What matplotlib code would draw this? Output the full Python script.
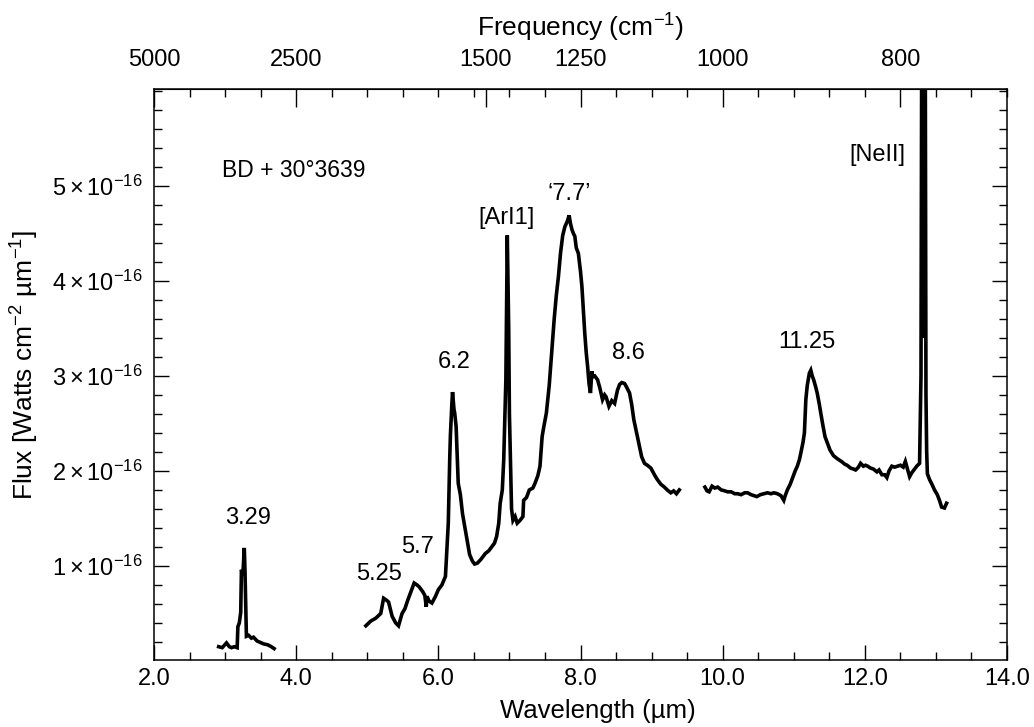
import numpy as np
import matplotlib
matplotlib.use("Agg")
import matplotlib.pyplot as plt
from matplotlib.ticker import MultipleLocator, FixedLocator

plt.rcParams['font.family'] = ['Liberation Sans', 'DejaVu Sans']
plt.rcParams['mathtext.fontset'] = 'custom'
plt.rcParams['mathtext.rm'] = 'Liberation Sans'
plt.rcParams['mathtext.it'] = 'Liberation Sans:italic'
plt.rcParams['mathtext.bf'] = 'Liberation Sans:bold'

# spectrum of BD+30 3639, flux in units of 1e-16 W cm^-2 um^-1
wl1 = [2.91, 2.96, 3.02, 3.06, 3.09, 3.13, 3.17, 3.18, 3.20, 3.22, 3.23, 3.25,
       3.27, 3.28, 3.29, 3.30, 3.33, 3.37, 3.40, 3.45, 3.48, 3.54, 3.60, 3.65, 3.69]
fl1 = [0.15, 0.14, 0.19, 0.15, 0.14, 0.15, 0.14, 0.36, 0.40, 0.51, 0.96, 0.90,
       1.19, 0.95, 0.60, 0.26, 0.27, 0.24, 0.25, 0.21, 0.20, 0.18, 0.17, 0.15, 0.13]

wl2 = [4.98, 5.05, 5.12, 5.19, 5.23, 5.27, 5.30, 5.35, 5.40, 5.44, 5.49, 5.53,
       5.57, 5.62, 5.66, 5.70, 5.73, 5.78, 5.81, 5.83, 5.84, 5.87, 5.91, 5.96,
       6.00, 6.05, 6.10, 6.13, 6.14, 6.16, 6.17, 6.19, 6.20, 6.22, 6.23, 6.25,
       6.28, 6.31, 6.34, 6.37, 6.41, 6.44, 6.48, 6.51, 6.55, 6.60, 6.66, 6.71,
       6.75, 6.79, 6.82, 6.85, 6.87, 6.90, 6.92, 6.95, 6.97, 6.98, 6.99, 7.00,
       7.01, 7.03, 7.05, 7.08, 7.11, 7.15, 7.19, 7.20, 7.24, 7.28, 7.33, 7.36,
       7.40, 7.43, 7.46, 7.48, 7.52, 7.56, 7.60, 7.63, 7.66, 7.69, 7.72, 7.75,
       7.78, 7.81, 7.82, 7.84, 7.86, 7.88, 7.90, 7.92, 7.94, 7.97, 8.00, 8.02,
       8.04, 8.06, 8.08, 8.10, 8.12, 8.14, 8.16, 8.17, 8.20, 8.24, 8.27, 8.31,
       8.34, 8.36, 8.40, 8.44, 8.48, 8.52, 8.55, 8.58, 8.62, 8.65, 8.69, 8.72,
       8.75, 8.79, 8.83, 8.86, 8.90, 8.94, 8.99, 9.04, 9.08, 9.13, 9.18, 9.22,
       9.27, 9.31, 9.35, 9.39]
fl2 = [0.37, 0.42, 0.45, 0.50, 0.66, 0.64, 0.62, 0.47, 0.40, 0.37, 0.50, 0.55,
       0.64, 0.74, 0.82, 0.80, 0.78, 0.73, 0.69, 0.57, 0.68, 0.63, 0.61, 0.68,
       0.75, 0.80, 0.89, 1.31, 1.45, 2.12, 2.38, 2.70, 2.83, 2.65, 2.61, 2.47,
       1.87, 1.75, 1.55, 1.42, 1.24, 1.12, 1.05, 1.02, 1.03, 1.07, 1.13, 1.16,
       1.20, 1.24, 1.31, 1.45, 1.66, 1.80, 2.12, 2.96, 4.48, 4.00, 3.50, 2.60,
       2.26, 1.60, 1.48, 1.52, 1.45, 1.48, 1.52, 1.69, 1.72, 1.80, 1.82, 1.87,
       1.95, 2.05, 2.36, 2.45, 2.61, 2.90, 3.30, 3.60, 3.85, 4.05, 4.30, 4.48,
       4.57, 4.62, 4.64, 4.69, 4.60, 4.54, 4.50, 4.47, 4.35, 4.29, 4.10, 3.94,
       3.70, 3.45, 3.25, 3.10, 2.92, 2.82, 3.05, 2.99, 3.00, 2.96, 2.88, 2.75,
       2.80, 2.78, 2.68, 2.74, 2.71, 2.85, 2.91, 2.93, 2.92, 2.88, 2.82, 2.70,
       2.54, 2.40, 2.26, 2.15, 2.08, 2.06, 2.03, 1.96, 1.91, 1.86, 1.83, 1.80,
       1.77, 1.79, 1.76, 1.80]

wl3 = [9.75, 9.78, 9.81, 9.85, 9.89, 9.93, 9.98, 10.03, 10.07, 10.12, 10.17,
       10.21, 10.26, 10.31, 10.35, 10.40, 10.44, 10.48, 10.53, 10.58, 10.63,
       10.68, 10.72, 10.77, 10.82, 10.86, 10.88, 10.91, 10.95, 10.99, 11.02,
       11.05, 11.08, 11.10, 11.13, 11.15, 11.17, 11.19, 11.22, 11.24, 11.26,
       11.28, 11.31, 11.33, 11.36, 11.38, 11.41, 11.44, 11.48, 11.51, 11.56,
       11.61, 11.67, 11.72, 11.75, 11.80, 11.84, 11.87, 11.91, 11.94, 11.98,
       12.01, 12.04, 12.08, 12.12, 12.17, 12.20, 12.24, 12.28, 12.31, 12.34,
       12.38, 12.42, 12.46, 12.50, 12.54, 12.57, 12.60, 12.63, 12.66, 12.70,
       12.73, 12.77, 12.79, 12.80, 12.82, 12.83, 12.84, 12.85, 12.86, 12.87,
       12.88, 12.91, 12.95, 12.98, 13.02, 13.05, 13.08, 13.12, 13.15]
fl3 = [1.83, 1.79, 1.78, 1.84, 1.82, 1.83, 1.80, 1.79, 1.78, 1.78, 1.76,
       1.76, 1.75, 1.77, 1.77, 1.75, 1.74, 1.73, 1.75, 1.76, 1.77,
       1.76, 1.77, 1.76, 1.74, 1.69, 1.74, 1.80, 1.86, 1.94, 2.00,
       2.05, 2.12, 2.19, 2.30, 2.40, 2.75, 2.90, 3.03, 3.06, 3.00,
       2.96, 2.88, 2.82, 2.70, 2.61, 2.48, 2.36, 2.28, 2.22, 2.16,
       2.13, 2.10, 2.07, 2.06, 2.03, 2.02, 2.01, 2.04, 2.08, 2.05,
       2.06, 2.05, 2.03, 2.02, 1.99, 2.01, 1.96, 1.96, 1.93, 2.00,
       2.05, 2.04, 2.05, 2.06, 2.04, 2.10, 2.02, 1.94, 1.98, 2.02,
       2.05, 2.08, 3.00, 6.50, 4.80, 6.50, 3.40, 6.50, 2.80, 2.20,
       1.97, 1.91, 1.85, 1.80, 1.75, 1.69, 1.62, 1.61, 1.66]

# feature labels
feat_text = ['3.29', '5.25', '5.7', '6.2', '[ArI1]', '\u20187.7\u2019', '8.6', '11.25', '[NeII]']
feat_x = [3.32, 5.17, 5.71, 6.22, 6.96, 7.84, 8.68, 11.18, 12.18]
feat_y = [1.50, 0.92, 1.20, 3.15, 4.66, 4.92, 3.24, 3.36, 5.33]

freq_ticks = [5000, 2500, 1500, 1250, 1000, 800]
wl_ticks = [2, 4, 6, 8, 10, 12, 14]
flux_ticks = [1, 2, 3, 4, 5]

fig = plt.figure(figsize=(10.34, 7.27), dpi=100)
ax = fig.add_axes([154/1034, 1-660/727, (1007-154)/1034, (660-89)/727])

for w, f in [(wl1, fl1), (wl2, fl2), (wl3, fl3)]:
    ax.plot(w, f, color='black', lw=2.6, solid_joinstyle='miter')

ax.set_xlim(2, 14)
ax.set_ylim(0.01, 6.02)

ax.set_xticks(wl_ticks)
ax.set_xticklabels(['%.1f' % t for t in wl_ticks])
ax.xaxis.set_minor_locator(MultipleLocator(0.5))
ax.set_yticks(flux_ticks)
ax.set_yticklabels([r'$\mathregular{%d\times10^{-16}}$' % n for n in flux_ticks])
ax.yaxis.set_minor_locator(MultipleLocator(0.2))

ax.tick_params(which='both', direction='in', top=False, right=True, labelsize=17)
ax.tick_params(which='major', length=11, width=1)
ax.tick_params(which='minor', length=6, width=1)
ax.tick_params(axis='x', pad=6)
ax.tick_params(axis='y', pad=8)
for s in ax.spines.values():
    s.set_linewidth(1.1)

sec = ax.secondary_xaxis('top', functions=(lambda x: 1e4/x, lambda f: 1e4/f))
sec.set_xticks(freq_ticks)
sec.set_xticklabels([str(f) for f in freq_ticks])
sec.xaxis.set_minor_locator(FixedLocator(1e4/np.arange(2.0, 14.01, 0.5)))
sec.tick_params(which='both', direction='in', labelsize=17, pad=13)
sec.tick_params(which='major', length=13, width=1)
sec.tick_params(which='minor', length=6, width=1)
sec.set_xlabel(r'Frequency (cm$^{-1}$)', fontsize=19, labelpad=9)

ax.set_xlabel(u'Wavelength (\u00b5m)', fontsize=18.5)
ax.xaxis.set_label_coords(0.52, -0.068)
ax.set_ylabel(u'Flux [Watts cm$^{-2}$ \u00b5m$^{-1}$]', fontsize=19)
ax.yaxis.set_label_coords(-0.133, 0.517)

ax.text(2.96, 5.16, u'BD + 30\u00b03639', fontsize=16.5, ha='left', va='center')
for t, x, y in zip(feat_text, feat_x, feat_y):
    ax.text(x, y, t, fontsize=17, ha='center', va='center')

plt.savefig('out.png', dpi=100)
